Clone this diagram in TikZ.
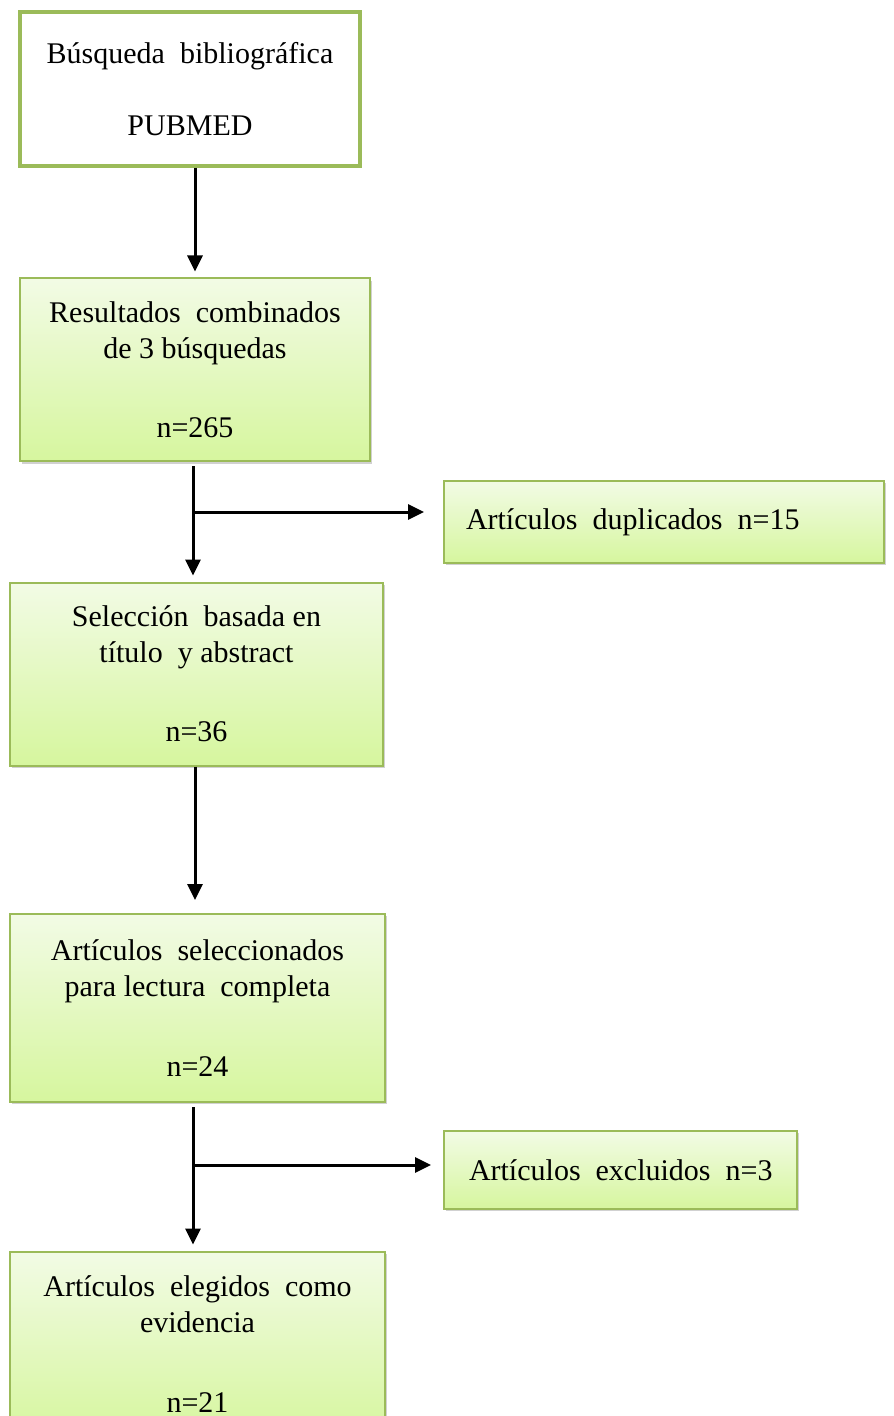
\documentclass[tikz,border=0pt]{standalone}
\usepackage{fontspec}
\setmainfont{Liberation Serif}
\usetikzlibrary{arrows.meta, shadows}

\definecolor{olivegreen}{RGB}{155,187,89}
\definecolor{lighttop}{RGB}{242,251,229}
\definecolor{lightbottom}{RGB}{214,246,158}

\begin{document}
\begin{tikzpicture}[x=0.5pt, y=-0.5pt,
    font=\fontsize{15}{18}\selectfont,
    box/.style={draw=olivegreen, line width=1pt, rectangle, align=center,
        top color=lighttop, bottom color=lightbottom,
        drop shadow={opacity=0.3, shadow xshift=1.2pt, shadow yshift=-1.2pt, fill=black!60}},
    sidebox/.style={box, align=left, inner xsep=11pt},
    arr/.style={line width=1.5pt, -{Triangle[length=8pt, width=7.5pt]}, shorten >=3pt}]
    \useasboundingbox (0,0) rectangle (893,1416);
    % search
    \node (pub) at (190,89) [draw=olivegreen, line width=2pt, fill=white, align=center,
        minimum width=170pt, minimum height=77pt] {B\'usqueda\ \ bibliogr\'afica\\[\baselineskip]PUBMED};
    \node (res) at (195,370) [box, minimum width=175pt, minimum height=91.5pt]
        {Resultados\ \ combinados\\de 3 b\'usquedas\\[1.2\baselineskip]n=265};
    \node (dup) at (664,522) [sidebox, text width=198pt, minimum height=41pt]
        {Art\'iculos\enspace duplicados\enspace n=15};
    \node (sel) at (196.5,674) [box, minimum width=186.5pt, minimum height=91.5pt]
        {Selecci\'on\ \ basada en\\t\'itulo\ \ y abstract\\[1.2\baselineskip]n=36};
    \node (lec) at (197.5,1008) [box, minimum width=187.5pt, minimum height=94pt]
        {Art\'iculos\ \ seleccionados\\para lectura\ \ completa\\[1.2\baselineskip]n=24};
    \node (exc) at (620.5,1170) [sidebox, inner xsep=12.5pt, text width=151.5pt, minimum height=39pt]
        {Art\'iculos\enspace excluidos\enspace n=3};
    \node (evi) at (197.5,1344) [box, minimum width=187.5pt, minimum height=92.5pt]
        {Art\'iculos\ \ elegidos\ \ como\\evidencia\\[1.2\baselineskip]n=21};
    % connectors
    \coordinate (b1) at (193,512);
    \coordinate (b2) at (193,1165);
    \draw[arr] (pub.south -| res.north) -- (res.north);
    \draw[arr, shorten <=2pt] (b1 |- res.south) -- (b1 |- sel.north);
    \draw[arr, shorten >=9.5pt] (b1) -- (b1 -| dup.west);
    \draw[arr] (sel.south -| 195,0) -- (195,906);
    \draw[arr, shorten <=2pt] (b2 |- lec.south) -- (b2 |- evi.north);
    \draw[arr, shorten >=6pt] (b2) -- (b2 -| exc.west);
\end{tikzpicture}
\end{document}
